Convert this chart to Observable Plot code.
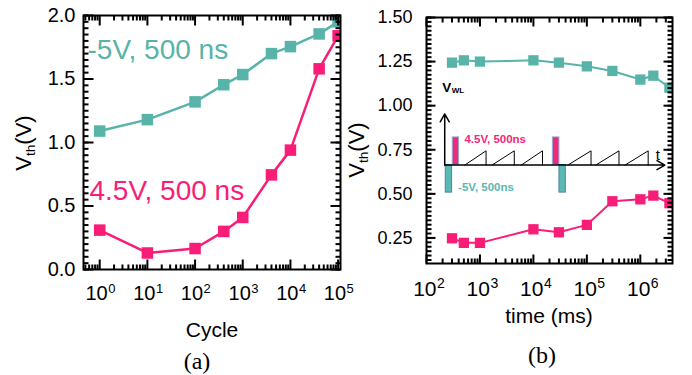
<!DOCTYPE html>
<html><head><meta charset="utf-8">
<script src="https://cdn.jsdelivr.net/npm/d3@7"></script>
<script src="https://cdn.jsdelivr.net/npm/@observablehq/plot@0.6"></script>
<style>
body{margin:0;background:#fff;}
#wrap{position:relative;width:692px;height:375px;font-family:"Liberation Sans",Arial,sans-serif;overflow:hidden;background:#fff;color:#000}
#wrap > svg{position:absolute;top:0}
.abs{position:absolute;white-space:nowrap;line-height:1;transform:translate(-50%,-50%)}
.rot{transform:translate(-50%,-50%) rotate(-90deg)}
.serif{font-family:"Liberation Serif","Times New Roman",serif}
sub{font-size:0.62em;vertical-align:-0.28em;line-height:0}
</style></head><body><div id="wrap"></div>
<script>
const TEAL = "#58b3a8", PINK = "#f81e78";

// (a) Vth vs. number of program/erase cycles
const cycles = [1, 10, 100, 400, 1000, 4000, 10000, 40000, 100000];
const vthErase = [1.09, 1.18, 1.32, 1.455, 1.535, 1.70, 1.755, 1.855, 1.95];
const vthProg  = [0.31, 0.13, 0.165, 0.30, 0.41, 0.745, 0.94, 1.58, 1.84];

// (b) Vth vs. retention time (ms)
const times = [300, 500, 1000, 1e4, 3e4, 1e5, 3e5, 1e6, 1.75e6, 3.5e6];
const retErase = [1.244, 1.257, 1.25, 1.257, 1.244, 1.223, 1.197, 1.148, 1.17, 1.102];
const retProg  = [0.248, 0.222, 0.222, 0.299, 0.282, 0.324, 0.458, 0.469, 0.49, 0.447];

// axis ticks
const yMajorA = [0, 0.5, 1.0, 1.5, 2.0];
const yMinorA = d3.range(0, 2.0001, 0.05);
const xDecA = [1, 10, 100, 1e3, 1e4, 1e5];
const xMinorA = [0.5,0.6,0.7,0.8,0.9].concat(...[1,10,100,1e3,1e4].map(d => [2,3,4,5,6,7,8,9].map(m => m*d)));
const yMajorB = [0.25, 0.5, 0.75, 1.0, 1.25, 1.5];
const yMinorB = d3.range(0.125, 1.5001, 0.025);
const xDecB = [1e2, 1e3, 1e4, 1e5, 1e6];
const xMinorB = [].concat(...[1e2,1e3,1e4,1e5,1e6].map(d => [2,3,4,5,6,7,8,9].map(m => m*d))).filter(v => v < 4e6);

// series labels of panel (a)
const labelErase = "-5V, 500 ns";
const labelProg = "4.5V, 500 ns";

// inset schematic of V_WL waveform (log10 time exponents, V)
const insetBase = 0.663, insetPosTop = 0.82, insetNegBot = 0.507, sawTop = 0.744;
const insetOrigin = 2.341, insetYTop = 0.953, insetXEnd = 6.459;
const posPulses = [[2.491, 2.610], [4.364, 4.487]];
const negPulses = [[2.360, 2.479], [4.487, 4.606]];
const sawStart = [2.715, 3.226, 3.772, 4.644, 5.166, 5.713];
const sawPeak  = [3.114, 3.642, 4.170, 5.078, 5.601, 6.147];

const dataA = cycles.map((c, i) => ({c, erase: vthErase[i], prog: vthProg[i]}));
const dataB = times.map((t, i) => ({t, erase: retErase[i], prog: retProg[i]}));
const sawPts = [].concat(...sawStart.map((s, k) => [
  {k, x: 10**s, y: insetBase}, {k, x: 10**sawPeak[k], y: sawTop}, {k, x: 10**sawPeak[k], y: insetBase}
]));

const FONT = "'Liberation Sans', Arial, sans-serif";
const sup = d => String(Math.round(Math.log10(d)));

// inward frame ticks on all four sides, as short z-grouped line segments in scale units
function frameTicks(xMaj, xMin, yMaj, yMin, maj, mn, xd, yd, ppd, ppu) {
  const pts = [];
  let k = 0;
  const seg = (x1, y1, x2, y2) => { pts.push({k, x: x1, y: y1}, {k, x: x2, y: y2}); k++; };
  for (const [arr, len] of [[xMaj, maj], [xMin, mn]]) for (const v of arr) {
    seg(v, yd[0], v, yd[0] + len / ppu);
    seg(v, yd[1], v, yd[1] - len / ppu);
  }
  for (const [arr, len] of [[yMaj, maj], [yMin, mn]]) for (const v of arr) {
    seg(xd[0], v, xd[0] * 10 ** (len / ppd), v);
    seg(xd[1], v, xd[1] / 10 ** (len / ppd), v);
  }
  return Plot.line(pts, {x: "x", y: "y", z: "k", stroke: "#000", strokeWidth: 2, strokeLinecap: "butt"});
}

const xdA = [10**-0.34, 10**5.05], ydA = [0, 2];
const xdB = [100, 4e6], ydB = [0.105, 1.5];

const pa = Plot.plot({
  width: 346, height: 300,
  marginLeft: 83, marginRight: 6, marginTop: 15, marginBottom: 31,
  style: {fontFamily: FONT, color: "#000", background: "transparent", overflow: "visible"},
  x: {type: "log", domain: xdA, axis: null},
  y: {domain: ydA, axis: null},
  marks: [
    Plot.line(dataA, {x: "c", y: "erase", stroke: TEAL, strokeWidth: 2.5, clip: true}),
    Plot.line(dataA, {x: "c", y: "prog", stroke: PINK, strokeWidth: 2.5, clip: true}),
    Plot.dot(dataA, {x: "c", y: "erase", symbol: "square", r: 6.5, fill: TEAL, clip: true}),
    Plot.dot(dataA, {x: "c", y: "prog", symbol: "square", r: 6.5, fill: PINK, clip: true}),
    Plot.text([labelErase], {text: d => d, fill: TEAL, frameAnchor: "top-left", textAnchor: "start", lineAnchor: "middle", dx: 4, dy: 35, fontSize: 28}),
    Plot.text([labelProg], {text: d => d, fill: PINK, frameAnchor: "top-left", textAnchor: "start", lineAnchor: "middle", dx: 6, dy: 176, fontSize: 28}),
    frameTicks(xDecA, xMinorA, yMajorA, yMinorA, 10, 5, xdA, ydA, 257 / Math.log10(xdA[1] / xdA[0]), 254 / (ydA[1] - ydA[0])),
    Plot.frame({stroke: "#000", strokeWidth: 2}),
    Plot.text(yMajorA, {y: d => d, text: d3.format(".1f"), frameAnchor: "left", textAnchor: "end", lineAnchor: "middle", dx: -8, fontSize: 20}),
    Plot.text(xDecA, {x: d => d, text: () => "10", frameAnchor: "bottom", textAnchor: "end", lineAnchor: "middle", dx: 8, dy: 24, fontSize: 20}),
    Plot.text(xDecA, {x: d => d, text: sup, frameAnchor: "bottom", textAnchor: "start", lineAnchor: "middle", dx: 8.5, dy: 19, fontSize: 13})
  ]
});

const pb = Plot.plot({
  width: 346, height: 300,
  marginLeft: 80, marginRight: 20, marginTop: 17, marginBottom: 37,
  style: {fontFamily: FONT, color: "#000", background: "transparent", overflow: "visible"},
  x: {type: "log", domain: xdB, axis: null},
  y: {domain: ydB, axis: null},
  marks: [
    Plot.line(dataB, {x: "t", y: "erase", stroke: TEAL, strokeWidth: 2, clip: true}),
    Plot.line(dataB, {x: "t", y: "prog", stroke: PINK, strokeWidth: 2, clip: true}),
    Plot.dot(dataB, {x: "t", y: "erase", symbol: "square", r: 5.8, fill: TEAL, clip: true}),
    Plot.dot(dataB, {x: "t", y: "prog", symbol: "square", r: 5.8, fill: PINK, clip: true}),
    // inset waveform
    Plot.line(sawPts, {x: "x", y: "y", z: "k", stroke: "#000", strokeWidth: 1}),
    Plot.rect(posPulses, {x1: d => 10**d[0], x2: d => 10**d[1], y1: insetBase, y2: insetPosTop, fill: "#ee2a7b", stroke: "#8eaed6", strokeWidth: 1}),
    Plot.rect(negPulses, {x1: d => 10**d[0], x2: d => 10**d[1], y1: insetNegBot, y2: insetBase, fill: "#5cb8b2", stroke: "#4a86a8", strokeWidth: 1}),
    Plot.arrow([{x1: 10**insetOrigin, y1: insetBase, x2: 10**insetXEnd, y2: insetBase}], {x1: "x1", y1: "y1", x2: "x2", y2: "y2", stroke: "#000", strokeWidth: 1.5, headLength: 9, bend: 0}),
    Plot.arrow([{x1: 10**insetOrigin, y1: insetBase, x2: 10**insetOrigin, y2: insetYTop}], {x1: "x1", y1: "y1", x2: "x2", y2: "y2", stroke: "#000", strokeWidth: 1.5, headLength: 9, bend: 0}),
    Plot.text([{x: 10**2.709, y: 0.807, t: "4.5V, 500ns"}], {x: "x", y: "y", text: "t", fill: "#f0287c", fontWeight: "bold", fontSize: 11.5, textAnchor: "start"}),
    Plot.text([{x: 10**2.591, y: 0.536, t: "-5V, 500ns"}], {x: "x", y: "y", text: "t", fill: "#5ab8b0", fontWeight: "bold", fontSize: 11.5, textAnchor: "start"}),
    Plot.text([{x: 10**6.29, y: 0.719, t: "t"}], {x: "x", y: "y", text: "t", fill: "#000", fontSize: 15, textAnchor: "start"}),
    Plot.text([{x: 10**2.293, y: 1.104, t: "V"}], {x: "x", y: "y", text: "t", fill: "#000", fontWeight: "bold", fontSize: 13.5, textAnchor: "start"}),
    Plot.text([{x: 10**2.293, y: 1.104, t: "WL"}], {x: "x", y: "y", text: "t", fill: "#000", fontWeight: "bold", fontSize: 8, textAnchor: "start", dx: 9.5, dy: 3}),
    frameTicks(xDecB, xMinorB, yMajorB, yMinorB, 9, 5, xdB, ydB, 246 / Math.log10(xdB[1] / xdB[0]), 246 / (ydB[1] - ydB[0])),
    Plot.frame({stroke: "#000", strokeWidth: 2}),
    Plot.text(yMajorB, {y: d => d, text: d3.format(".2f"), frameAnchor: "left", textAnchor: "end", lineAnchor: "middle", dx: -14, fontSize: 18}),
    Plot.text(xDecB, {x: d => d, text: () => "10", frameAnchor: "bottom", textAnchor: "end", lineAnchor: "middle", dx: 10, dy: 26, fontSize: 21}),
    Plot.text(xDecB, {x: d => d, text: sup, frameAnchor: "bottom", textAnchor: "start", lineAnchor: "middle", dx: 10.5, dy: 20, fontSize: 14})
  ]
});

const wrap = document.getElementById("wrap");
pa.style.left = "0px";
pb.style.left = "346px";
wrap.appendChild(pa);
wrap.appendChild(pb);

const labels = [
  {html: "V<sub>th</sub>(V)", x: 24, y: 143, size: 22, cls: "rot"},
  {html: "V<sub>th</sub>(V)", x: 357, y: 150, size: 22, cls: "rot"},
  {html: "Cycle", x: 212, y: 329, size: 21, cls: ""},
  {html: "time (ms)", x: 549, y: 315, size: 21, cls: ""},
  {html: "(a)", x: 197, y: 361, size: 24, cls: "serif"},
  {html: "(b)", x: 542, y: 355, size: 24, cls: "serif"}
];
for (const l of labels) {
  const el = document.createElement("div");
  el.className = "abs " + l.cls;
  el.style.left = l.x + "px";
  el.style.top = l.y + "px";
  el.style.fontSize = l.size + "px";
  el.innerHTML = l.html;
  wrap.appendChild(el);
}
</script></body></html>
